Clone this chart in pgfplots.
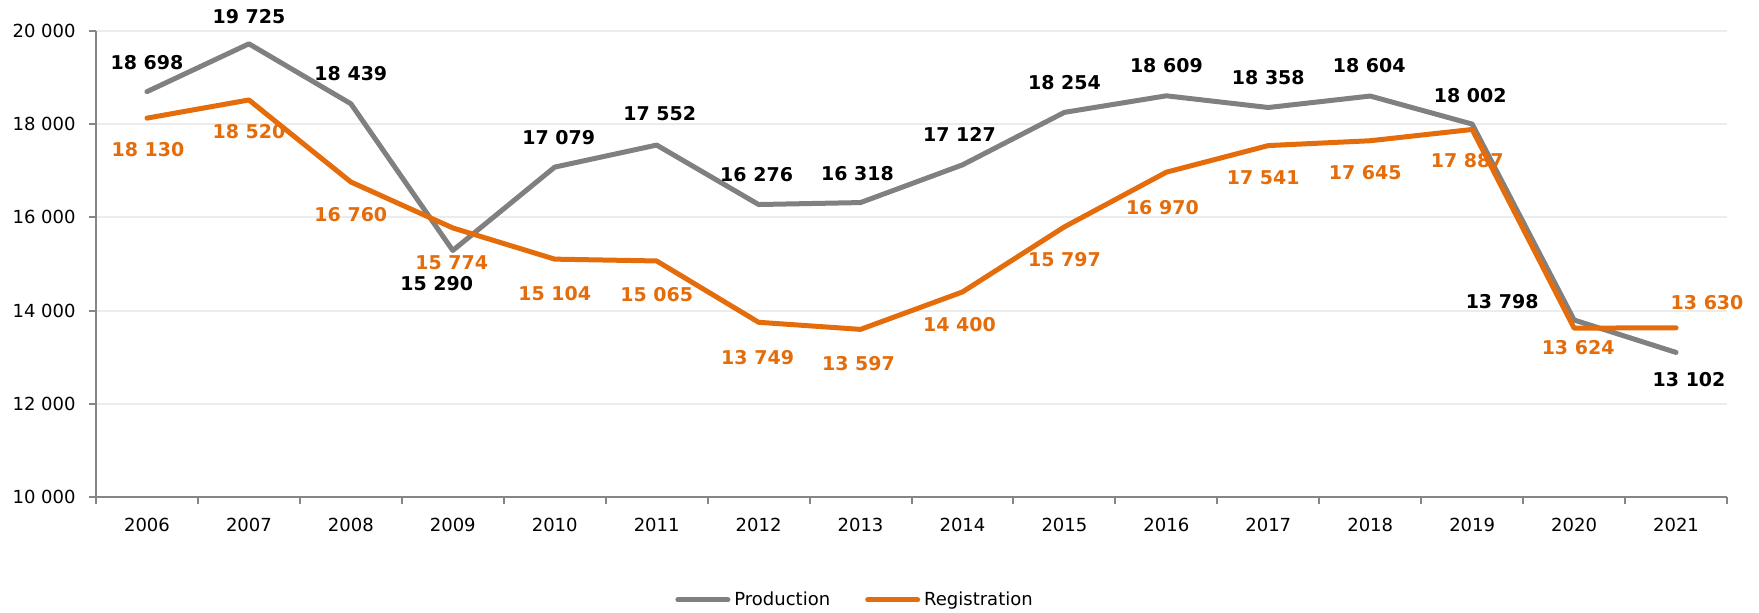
\documentclass[border=0pt]{standalone}
\usepackage{pgfplots}
\pgfplotsset{compat=1.18}
\usepackage{pgfplotstable}
\usepackage{fontspec}
\setmainfont{DejaVu Sans}
\definecolor{prodc}{RGB}{128,128,128}
\definecolor{regc}{RGB}{228,108,10}
\definecolor{axisgray}{RGB}{134,134,134}
\definecolor{gridgray}{RGB}{236,236,236}
\pgfplotsset{/pgf/number format/assume math mode=true, /pgf/number format/1000 sep={\ }}

\pgfplotstableread{
x y dx dy
0 18698 0 14.5
1 19725 0 13.5
2 18439 0 15
3 15290 -8 -16.5
4 17079 2 15
5 17552 1.5 15.5
6 16276 -1 14.75
7 16318 -1.5 14.5
8 17127 -1.5 15
9 18254 0 15
10 18609 0 15
11 18358 0 15
12 18604 -0.5 15
13 18002 -1 14.5
14 13798 -36 9
15 13102 6.5 -13.5
}\tabprod

\pgfplotstableread{
x y dx dy
0 18130 0.5 -15.5
1 18520 0 -16
2 16760 0 -16.5
3 15774 -0.5 -17.25
4 15104 0 -17
5 15065 0 -17
6 13749 -0.5 -17.5
7 13597 -1 -17.25
8 14400 -1.5 -16.5
9 15797 0 -16.5
10 16970 -2 -17.75
11 17541 -2.5 -16
12 17645 -2.5 -16
13 17887 -2.5 -15.5
14 13624 2 -9.5
15 13630 15.5 12.5
}\tabreg

\begin{document}
\begin{tikzpicture}
\path[use as bounding box] (-48pt,-58pt) rectangle (831.5pt,248.5pt);
\begin{axis}[
  scale only axis, width=815.5pt, height=233pt,
  xmin=-0.5, xmax=15.5, ymin=10000, ymax=20000,
  ytick={10000,12000,...,20000},
  scaled y ticks=false,
  yticklabel={\pgfmathprintnumber[fixed,precision=0]{\tick}},
  xtick={0,...,15},
  xticklabels={2006,2007,2008,2009,2010,2011,2012,2013,2014,2015,2016,2017,2018,2019,2020,2021},
  minor xtick={-0.5,0.5,...,15.5},
  axis lines*=left,
  axis line style={axisgray, line width=1pt},
  tick align=outside,
  major tick length=3.5pt, minor tick length=3.5pt,
  major x tick style={draw=none},
  major y tick style={axisgray, line width=1pt},
  minor x tick style={axisgray, line width=1pt},
  ymajorgrids,
  major grid style={gridgray, line width=1pt},
  tick label style={font=\fontsize{9}{11}\selectfont},
  yticklabel style={anchor=east, inner sep=0pt, xshift=-6.5pt},
  xticklabel style={anchor=north, inner sep=0pt, yshift=-7pt},
  legend style={at={(0.466,-0.221)}, anchor=center, draw=none, legend columns=2,
    font=\fontsize{9}{11}\selectfont,
    /tikz/every even column/.append style={column sep=15.5pt}},
  legend image code/.code={\draw[#1, line cap=round] (0pt,0pt) -- (25pt,0pt);},
  clip=false,
  visualization depends on={\thisrow{dx} \as \dx},
  visualization depends on={\thisrow{dy} \as \dy},
  nodes near coords,
  every node near coord/.append style={anchor=center, inner sep=0pt,
    xshift=\dx pt, yshift=\dy pt, font=\fontsize{9.5}{11}\selectfont\bfseries},
]
\addplot[prodc, line width=2.5pt, line join=round, line cap=round,
  every node near coord/.append style={text=black}] table[x=x,y=y] {\tabprod};
\addlegendentry{Production}
\addplot[regc, line width=2.5pt, line join=round, line cap=round,
  every node near coord/.append style={text=regc}] table[x=x,y=y] {\tabreg};
\addlegendentry{Registration}
\end{axis}
\end{tikzpicture}
\end{document}
